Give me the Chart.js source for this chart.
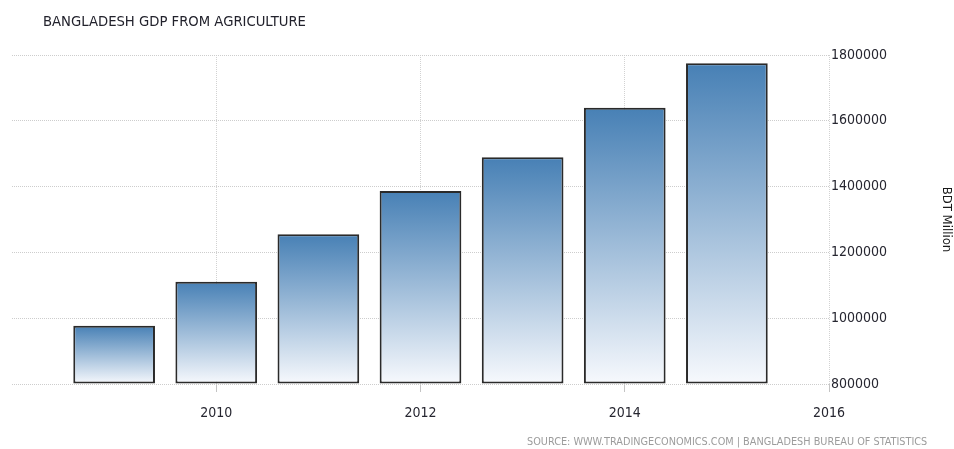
<!DOCTYPE html>
<html>
<head>
<meta charset="utf-8">
<script src="https://cdn.jsdelivr.net/npm/chart.js@4.4.0/dist/chart.umd.min.js"></script>
<style>
  html, body { margin: 0; padding: 0; background: #fff; }
  #wrap { position: relative; width: 954px; height: 449px; overflow: hidden; }
  canvas { position: absolute; left: 0; top: 0; }
  #title {
    position: absolute; left: 43px; top: 12px;
    font: 14.7px "DejaVu Sans Condensed", "DejaVu Sans", sans-serif;
    color: #22222c; white-space: nowrap; line-height: 17px;
  }
  #source {
    position: absolute; left: 527px; top: 436px;
    font: 10.8px "DejaVu Sans Condensed", "DejaVu Sans", sans-serif;
    color: #9c9c9c; white-space: nowrap; line-height: 12px;
  }
</style>
</head>
<body>
<div id="wrap">
  <canvas id="chart" width="954" height="449"></canvas>
  <div id="title">BANGLADESH GDP FROM AGRICULTURE</div>
  <div id="source">SOURCE: WWW.TRADINGECONOMICS.COM | BANGLADESH BUREAU OF STATISTICS</div>
</div>
<script>
// Annual GDP from agriculture, BDT million
const years = [2009, 2010, 2011, 2012, 2013, 2014, 2015];
const gdpAgriculture = [977000, 1111000, 1255000, 1387000, 1489000, 1640000, 1775000];

// Axis tick values
const xTicks = [2010, 2012, 2014, 2016];
const yTicks = [800000, 1000000, 1200000, 1400000, 1600000, 1800000];
const yMin = yTicks[0];
const yMax = yTicks[yTicks.length - 1];

Chart.defaults.font.family = '"DejaVu Sans Condensed", "DejaVu Sans", sans-serif';

// Each bar fades from steel blue at its top to near white at the baseline
function barFill(ctx) {
  const fallback = '#4780b5';
  if (ctx.type !== 'data') return fallback;
  const chart = ctx.chart;
  const yScale = chart.scales.y;
  if (!chart.chartArea || !yScale || !ctx.parsed) return fallback;
  const top = yScale.getPixelForValue(ctx.parsed.y);
  const base = yScale.getPixelForValue(yMin);
  if (!isFinite(top) || !isFinite(base) || base <= top) return fallback;
  const g = chart.ctx.createLinearGradient(0, top, 0, base);
  g.addColorStop(0, '#4780b5');
  g.addColorStop(1, '#f7f9fd');
  return g;
}

new Chart(document.getElementById('chart'), {
  type: 'bar',
  data: {
    datasets: [{
      label: 'GDP from agriculture',
      data: years.map((yr, i) => ({ x: yr, y: gdpAgriculture[i] })),
      base: yMin,
      backgroundColor: barFill,
      borderColor: '#2a2a2a',
      borderWidth: 2,
      borderSkipped: false,
      barPercentage: 0.8,
      categoryPercentage: 1.0,
      clip: false
    }]
  },
  options: {
    responsive: false,
    animation: false,
    devicePixelRatio: 1,
    layout: { padding: { left: 12, top: 55, right: 0, bottom: 0 } },
    plugins: {
      legend: { display: false },
      tooltip: { enabled: false }
    },
    scales: {
      x: {
        type: 'linear',
        min: 2008,
        max: 2016,
        offset: false,
        grid: { offset: false, color: '#d2d2d2', tickLength: 8, tickColor: '#c4c4c4' },
        border: { display: false, dash: [1, 1] },
        ticks: { padding: 13, color: '#262630', font: { size: 14 }, callback: v => String(v) },
        afterBuildTicks: s => { s.ticks = xTicks.map(v => ({ value: v })); },
        afterFit: s => { s.height = 65; s.paddingLeft = 0; s.paddingRight = 0; }
      },
      y: {
        position: 'right',
        min: yMin,
        max: yMax,
        grid: { drawTicks: false, color: '#cdcdcd' },
        border: { display: false, dash: [1, 1] },
        ticks: { padding: 2, color: '#262630', font: { size: 14 }, callback: v => String(v) },
        afterBuildTicks: s => { s.ticks = yTicks.map(v => ({ value: v })); },
        afterFit: s => { s.width = 125; s.paddingTop = 0; s.paddingBottom = 0; },
        title: { display: true, text: 'BDT Million', color: '#1a1a1a', font: { size: 13 }, padding: 0 }
      }
    }
  }
});
</script>
</body>
</html>
